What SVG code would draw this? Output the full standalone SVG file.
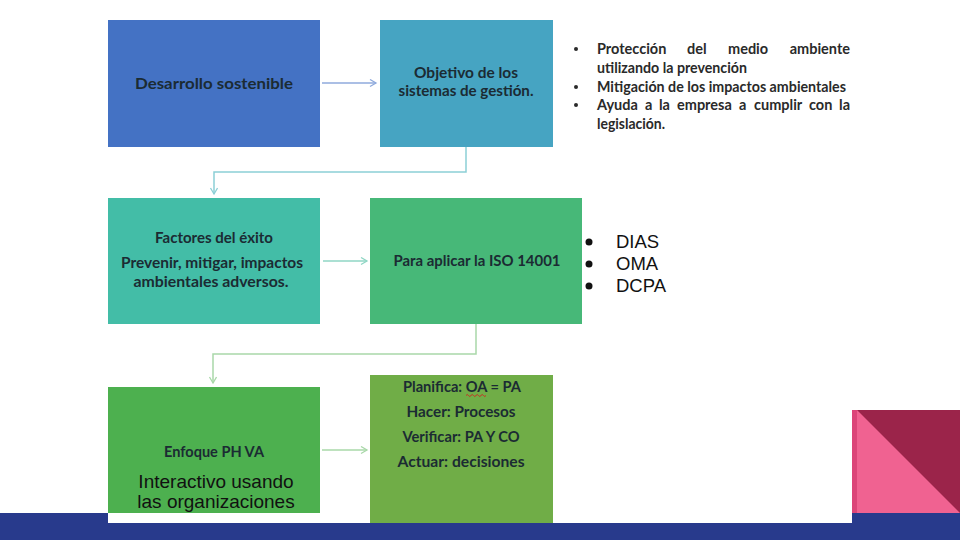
<svg xmlns="http://www.w3.org/2000/svg" width="960" height="540" viewBox="0 0 960 540">
  <defs>
    <marker id="arBlue" markerWidth="10" markerHeight="10" refX="7" refY="4" orient="auto" markerUnits="userSpaceOnUse">
      <path d="M1,0.5 L7,4 L1,7.5" fill="none" stroke="#8faadc" stroke-width="1.3"/>
    </marker>
    <marker id="arTeal" markerWidth="10" markerHeight="10" refX="7" refY="4" orient="auto" markerUnits="userSpaceOnUse">
      <path d="M1,0.5 L7,4 L1,7.5" fill="none" stroke="#8ccfd6" stroke-width="1.3"/>
    </marker>
    <marker id="arMint" markerWidth="10" markerHeight="10" refX="7" refY="4" orient="auto" markerUnits="userSpaceOnUse">
      <path d="M1,0.5 L7,4 L1,7.5" fill="none" stroke="#8fd6c4" stroke-width="1.3"/>
    </marker>
    <marker id="arGreen" markerWidth="10" markerHeight="10" refX="7" refY="4" orient="auto" markerUnits="userSpaceOnUse">
      <path d="M1,0.5 L7,4 L1,7.5" fill="none" stroke="#a9d8a9" stroke-width="1.3"/>
    </marker>
  </defs>
  <style>
    .box { stroke: none; }
    .t { font-family: Lato, "Liberation Sans", sans-serif; font-weight: bold; fill: #1b2b33; text-anchor: middle; font-size: 16px; }
    .b { font-family: Lato, "Liberation Sans", sans-serif; font-weight: bold; fill: #2a2a2a; font-size: 14.5px; }
    .a { font-family: "Liberation Sans", Arial, sans-serif; fill: #111111; }
    .conn { fill: none; stroke-width: 1.5; }
  </style>

  <rect x="0" y="0" width="960" height="540" fill="#ffffff"/>

  <!-- bottom band and decoration -->
  <g id="decor">
    <rect x="0" y="513" width="960" height="27" fill="#283a8c"/>
    <rect x="108" y="500" width="744" height="23" fill="#ffffff"/>
    <rect x="852" y="410" width="108" height="103" fill="#f06291"/>
    <rect x="852" y="410" width="5" height="103" fill="#dc4579"/>
    <polygon points="857,410 960,410 960,513" fill="#9b244a"/>
  </g>

  <!-- connectors -->
  <g id="connectors">
    <line class="conn" x1="322" y1="83" x2="376" y2="83" stroke="#8faadc" marker-end="url(#arBlue)"/>
    <path class="conn" d="M466,147 V172 H214 V194" stroke="#8ccfd6" marker-end="url(#arTeal)"/>
    <line class="conn" x1="323" y1="261" x2="367" y2="261" stroke="#8fd6c4" marker-end="url(#arMint)"/>
    <path class="conn" d="M476,324 V354 H213 V383" stroke="#a9d8a9" marker-end="url(#arGreen)"/>
    <line class="conn" x1="322" y1="450" x2="367" y2="450" stroke="#a9d8a9" marker-end="url(#arGreen)"/>
  </g>

  <g id="n-desarrollo">
    <rect class="box" x="108" y="20" width="212" height="127" fill="#4472c4"/>
    <text class="t" x="214" y="89" font-size="18" textLength="158" lengthAdjust="spacingAndGlyphs">Desarrollo sostenible</text>
  </g>

  <g id="n-objetivo">
    <rect class="box" x="380" y="20" width="173" height="127" fill="#46a4c2"/>
    <text class="t" x="466" y="78" textLength="104" lengthAdjust="spacingAndGlyphs">Objetivo  de los</text>
    <text class="t" x="466" y="96" textLength="135" lengthAdjust="spacingAndGlyphs">sistemas de gestión.</text>
  </g>

  <g id="n-bullets-objetivo">
    <circle cx="576" cy="49" r="2" fill="#2a2a2a"/>
    <text class="b" x="597" y="54">Protección</text>
    <text class="b" x="687" y="54">del</text>
    <text class="b" x="728" y="54">medio</text>
    <text class="b" x="850" y="54" text-anchor="end">ambiente</text>
    <text class="b" x="597" y="73" textLength="150" lengthAdjust="spacingAndGlyphs">utilizando la prevención</text>
    <circle cx="576" cy="87" r="2" fill="#2a2a2a"/>
    <text class="b" x="597" y="92" textLength="249" lengthAdjust="spacingAndGlyphs">Mitigación de los impactos ambientales</text>
    <circle cx="576" cy="105" r="2" fill="#2a2a2a"/>
    <text class="b" x="597" y="110">Ayuda</text>
    <text class="b" x="645" y="110">a</text>
    <text class="b" x="659" y="110">la</text>
    <text class="b" x="677" y="110">empresa</text>
    <text class="b" x="739" y="110">a</text>
    <text class="b" x="754" y="110">cumplir</text>
    <text class="b" x="809" y="110">con</text>
    <text class="b" x="850" y="110" text-anchor="end">la</text>
    <text class="b" x="597" y="129" textLength="68" lengthAdjust="spacingAndGlyphs">legislación.</text>
  </g>

  <g id="n-factores">
    <rect class="box" x="108" y="198" width="212" height="126" fill="#43bda7"/>
    <text class="t" x="214" y="243" textLength="118" lengthAdjust="spacingAndGlyphs">Factores del éxito</text>
    <text class="t" x="212" y="268" textLength="182" lengthAdjust="spacingAndGlyphs">Prevenir, mitigar, impactos</text>
    <text class="t" x="211" y="287" textLength="155" lengthAdjust="spacingAndGlyphs">ambientales adversos.</text>
  </g>

  <g id="n-iso">
    <rect class="box" x="370" y="198" width="212" height="126" fill="#47b878"/>
    <text class="t" x="477" y="266" textLength="167" lengthAdjust="spacingAndGlyphs">Para aplicar la ISO 14001</text>
  </g>

  <g id="n-bullets-iso">
    <circle cx="589" cy="242" r="3.5" fill="#111"/>
    <circle cx="589" cy="264" r="3.5" fill="#111"/>
    <circle cx="589" cy="286" r="3.5" fill="#111"/>
    <text class="a" x="616" y="248" font-size="18.5">DIAS</text>
    <text class="a" x="616" y="270" font-size="18.5">OMA</text>
    <text class="a" x="616" y="292" font-size="18.5">DCPA</text>
  </g>

  <g id="n-enfoque">
    <rect class="box" x="108" y="387" width="212" height="126" fill="#4db04f"/>
    <text class="t" x="214" y="457" textLength="100" lengthAdjust="spacingAndGlyphs">Enfoque PH VA</text>
    <text class="a" x="216" y="488" font-size="19" text-anchor="middle" fill="#1a1a1a">Interactivo usando</text>
    <text class="a" x="216" y="508" font-size="19" text-anchor="middle" fill="#1a1a1a">las organizaciones</text>
  </g>

  <g id="n-phva">
    <rect class="box" x="370" y="375" width="183" height="148" fill="#70ad47"/>
    <text class="t" x="462" y="392" textLength="118" lengthAdjust="spacingAndGlyphs">Planifica: OA = PA</text>
    <path d="M466,395.5 q1.25,-2 2.5,0 t2.5,0 t2.5,0 t2.5,0 t2.5,0 t2.5,0 t2.5,0 t2.5,0" fill="none" stroke="#d02020" stroke-width="0.9"/>
    <text class="t" x="461" y="417" textLength="109" lengthAdjust="spacingAndGlyphs">Hacer: Procesos</text>
    <text class="t" x="461" y="442" textLength="117" lengthAdjust="spacingAndGlyphs">Verificar: PA Y CO</text>
    <text class="t" x="461" y="467" textLength="127" lengthAdjust="spacingAndGlyphs">Actuar:  decisiones</text>
  </g>
</svg>
